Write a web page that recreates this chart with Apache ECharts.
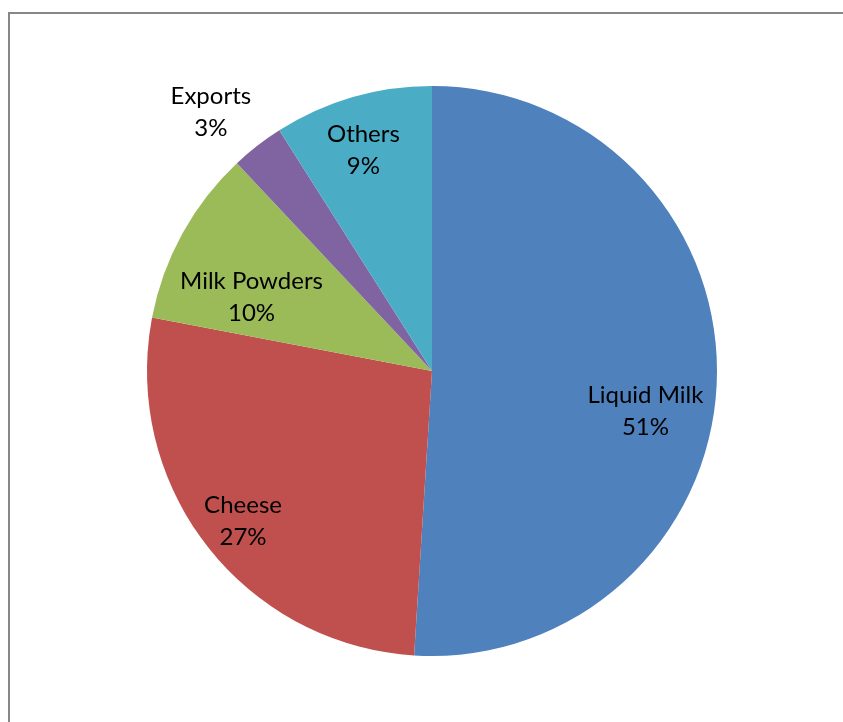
<!DOCTYPE html>
<html>
<head>
<meta charset="utf-8">
<script src="https://cdn.jsdelivr.net/npm/echarts@6/dist/echarts.min.js"></script>
<style>
  html, body { margin: 0; padding: 0; background: #fff; }
  #main { width: 843px; height: 722px; }
</style>
</head>
<body>
<div id="main"></div>
<script>
var categories = ['Liquid Milk', 'Cheese', 'Milk Powders', 'Exports', 'Others'];
var shares = [51, 27, 10, 3, 9];
var colors = ['#4F81BD', '#C0504D', '#9BBB59', '#8064A2', '#4BACC6'];
// nudges from the default inside label spot, per slice
var labelShift = [[68, 36], [-74, 61], [-53, -4], [-132, -144], [-28, -81]];

var chartDom = document.getElementById('main');
var myChart = echarts.init(chartDom);
var option;

option = {
  animation: false,
  graphic: [
    {
      type: 'rect',
      shape: { x: 9, y: 13, width: 900, height: 800 },
      style: { fill: 'none', stroke: '#878787', lineWidth: 2 },
      silent: true
    }
  ],
  series: [
    {
      type: 'pie',
      center: [432, 371],
      radius: [0, 285],
      startAngle: 90,
      clockwise: true,
      avoidLabelOverlap: false,
      label: {
        show: true,
        position: 'inside',
        formatter: '{b}\n{c}%',
        color: '#000',
        fontFamily: 'Lato',
        fontSize: 24,
        lineHeight: 32
      },
      labelLine: { show: false },
      labelLayout: function (params) {
        var s = labelShift[params.dataIndex];
        return { dx: s[0], dy: s[1] };
      },
      emphasis: { disabled: true },
      data: categories.map(function (name, i) {
        return { name: name, value: shares[i], itemStyle: { color: colors[i] } };
      })
    }
  ]
};

myChart.setOption(option);
</script>
</body>
</html>
